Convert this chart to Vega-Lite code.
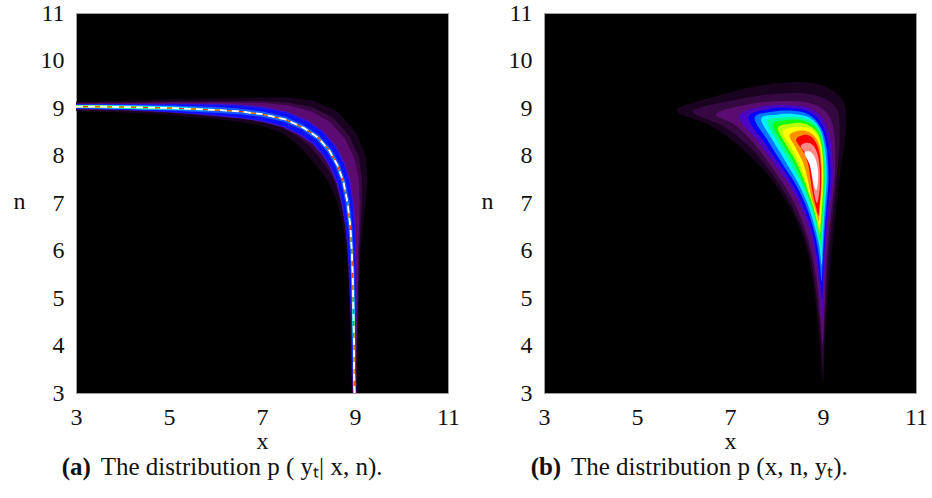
{
"$schema": "https://vega.github.io/schema/vega-lite/v6.json",
"spacing": 19,
"padding": {"left": 12, "top": 0, "right": 5, "bottom": 5},
"background": "white",
"config": {
  "view": {"fill": "#000000", "stroke": "#a0a0a0", "strokeWidth": 1},
  "text": {"font": "Liberation Serif"},
  "axis": {"grid": false, "ticks": false, "domain": false, "labelFont": "Liberation Serif", "labelFontSize": 24, "labelColor": "#111111", "titleFont": "Liberation Serif", "titleFontSize": 24, "titleFontWeight": "normal", "titleColor": "#111111", "labelFlush": false},
  "axisX": {"labelPadding": 31, "labelBaseline": "alphabetic", "titleY": 55, "titleBaseline": "alphabetic"},
  "axisY": {"labelPadding": 12, "titleAngle": 0, "titleX": -57, "titleY": 195, "titleAlign": "center", "titleBaseline": "alphabetic"}
},
"datasets": {
"band": [
{"i":0,"x":3.0,"n":9.03,"hx":3.0,"hn":9.035,"h1":0.2,"h2":0.15,"h3":0.12,"v":0.105,"b":0.09,"a":0.075,"c":0.065,"g":0.05,"wy":0.04,"r":0.028},
{"i":1,"x":3.5,"n":9.03,"hx":3.5,"hn":9.035,"h1":0.22,"h2":0.165,"h3":0.135,"v":0.115,"b":0.1,"a":0.08,"c":0.07,"g":0.055,"wy":0.035,"r":0.015},
{"i":2,"x":4.0,"n":9.02,"hx":4.0,"hn":9.03,"h1":0.25,"h2":0.18,"h3":0.15,"v":0.13,"b":0.11,"a":0.085,"c":0.075,"g":0.05,"wy":0.02,"r":0},
{"i":3,"x":4.5,"n":9.01,"hx":4.5,"hn":9.025,"h1":0.29,"h2":0.21,"h3":0.175,"v":0.15,"b":0.13,"a":0.095,"c":0.08,"g":0.04,"wy":0,"r":0},
{"i":4,"x":5.0,"n":9.0,"hx":5.0,"hn":9.02,"h1":0.33,"h2":0.24,"h3":0.2,"v":0.18,"b":0.155,"a":0.105,"c":0.075,"g":0.02,"wy":0,"r":0},
{"i":5,"x":5.5,"n":8.98,"hx":5.5,"hn":9.0,"h1":0.38,"h2":0.28,"h3":0.235,"v":0.22,"b":0.19,"a":0.115,"c":0.06,"g":0,"wy":0,"r":0},
{"i":6,"x":6.0,"n":8.96,"hx":6.0,"hn":8.985,"h1":0.43,"h2":0.32,"h3":0.27,"v":0.26,"b":0.22,"a":0.12,"c":0.04,"g":0,"wy":0,"r":0},
{"i":7,"x":6.5,"n":8.93,"hx":6.5,"hn":8.96,"h1":0.5,"h2":0.37,"h3":0.31,"v":0.29,"b":0.25,"a":0.12,"c":0.015,"g":0,"wy":0,"r":0},
{"i":8,"x":7.0,"n":8.87,"hx":7.02,"hn":8.93,"h1":0.6,"h2":0.44,"h3":0.36,"v":0.32,"b":0.27,"a":0.115,"c":0,"g":0,"wy":0,"r":0},
{"i":9,"x":7.5,"n":8.76,"hx":7.54,"hn":8.84,"h1":0.78,"h2":0.56,"h3":0.44,"v":0.34,"b":0.29,"a":0.11,"c":0,"g":0,"wy":0,"r":0},
{"i":10,"x":7.9,"n":8.58,"hx":7.96,"hn":8.69,"h1":0.98,"h2":0.7,"h3":0.52,"v":0.36,"b":0.3,"a":0.1,"c":0,"g":0,"wy":0,"r":0},
{"i":11,"x":8.2,"n":8.38,"hx":8.28,"hn":8.49,"h1":1.1,"h2":0.78,"h3":0.56,"v":0.36,"b":0.3,"a":0.1,"c":0,"g":0,"wy":0,"r":0},
{"i":12,"x":8.45,"n":8.1,"hx":8.55,"hn":8.19,"h1":1.1,"h2":0.78,"h3":0.56,"v":0.35,"b":0.29,"a":0.1,"c":0,"g":0,"wy":0,"r":0},
{"i":13,"x":8.62,"n":7.8,"hx":8.74,"hn":7.86,"h1":1.0,"h2":0.71,"h3":0.52,"v":0.33,"b":0.27,"a":0.095,"c":0,"g":0,"wy":0,"r":0},
{"i":14,"x":8.75,"n":7.45,"hx":8.86,"hn":7.49,"h1":0.82,"h2":0.58,"h3":0.44,"v":0.3,"b":0.24,"a":0.09,"c":0,"g":0,"wy":0,"r":0},
{"i":15,"x":8.84,"n":7.0,"hx":8.93,"hn":7.02,"h1":0.6,"h2":0.44,"h3":0.34,"v":0.26,"b":0.21,"a":0.09,"c":0,"g":0,"wy":0,"r":0},
{"i":16,"x":8.9,"n":6.5,"hx":8.96,"hn":6.51,"h1":0.42,"h2":0.32,"h3":0.26,"v":0.21,"b":0.175,"a":0.085,"c":0,"g":0,"wy":0,"r":0},
{"i":17,"x":8.93,"n":6.0,"hx":8.97,"hn":6.0,"h1":0.3,"h2":0.24,"h3":0.2,"v":0.18,"b":0.155,"a":0.08,"c":0.02,"g":0,"wy":0,"r":0},
{"i":18,"x":8.95,"n":5.5,"hx":8.98,"hn":5.5,"h1":0.25,"h2":0.2,"h3":0.175,"v":0.16,"b":0.135,"a":0.075,"c":0.045,"g":0,"wy":0,"r":0},
{"i":19,"x":8.96,"n":5.0,"hx":8.98,"hn":5.0,"h1":0.21,"h2":0.17,"h3":0.15,"v":0.135,"b":0.115,"a":0.07,"c":0.055,"g":0.015,"wy":0,"r":0},
{"i":20,"x":8.97,"n":4.5,"hx":8.98,"hn":4.5,"h1":0.18,"h2":0.145,"h3":0.125,"v":0.11,"b":0.095,"a":0.065,"c":0.055,"g":0.035,"wy":0,"r":0},
{"i":21,"x":8.98,"n":4.0,"hx":8.98,"hn":4.0,"h1":0.15,"h2":0.125,"h3":0.105,"v":0.09,"b":0.08,"a":0.06,"c":0.05,"g":0.04,"wy":0.02,"r":0},
{"i":22,"x":8.98,"n":3.5,"hx":8.98,"hn":3.5,"h1":0.13,"h2":0.11,"h3":0.09,"v":0.075,"b":0.065,"a":0.055,"c":0.045,"g":0.035,"wy":0.028,"r":0.012},
{"i":23,"x":8.99,"n":3.0,"hx":8.99,"hn":3.0,"h1":0.11,"h2":0.095,"h3":0.08,"v":0.065,"b":0.055,"a":0.05,"c":0.04,"g":0.032,"wy":0.026,"r":0.02}
],
"crescent": [
{"l":"R0","i":0,"x":5.85,"n":8.95},{"l":"R0","i":1,"x":6.7,"n":9.25},{"l":"R0","i":2,"x":7.8,"n":9.5},{"l":"R0","i":3,"x":8.8,"n":9.52},{"l":"R0","i":4,"x":9.4,"n":9.2},{"l":"R0","i":5,"x":9.5,"n":8.6},{"l":"R0","i":6,"x":9.38,"n":7.7},{"l":"R0","i":7,"x":9.28,"n":6.8},{"l":"R0","i":8,"x":9.18,"n":5.9},{"l":"R0","i":9,"x":9.1,"n":4.9},{"l":"R0","i":10,"x":9.04,"n":4.0},{"l":"R0","i":11,"x":9.0,"n":3.2},{"l":"R0","i":12,"x":8.93,"n":4.0},{"l":"R0","i":13,"x":8.83,"n":5.0},{"l":"R0","i":14,"x":8.67,"n":5.95},{"l":"R0","i":15,"x":8.42,"n":6.65},{"l":"R0","i":16,"x":8.1,"n":7.2},{"l":"R0","i":17,"x":7.72,"n":7.7},{"l":"R0","i":18,"x":7.25,"n":8.15},{"l":"R0","i":19,"x":6.6,"n":8.62},
{"l":"R1","i":0,"x":6.2,"n":8.93},{"l":"R1","i":1,"x":7.0,"n":9.15},{"l":"R1","i":2,"x":8.0,"n":9.3},{"l":"R1","i":3,"x":8.8,"n":9.28},{"l":"R1","i":4,"x":9.28,"n":9.0},{"l":"R1","i":5,"x":9.36,"n":8.4},{"l":"R1","i":6,"x":9.3,"n":7.6},{"l":"R1","i":7,"x":9.22,"n":6.8},{"l":"R1","i":8,"x":9.13,"n":6.0},{"l":"R1","i":9,"x":9.07,"n":5.0},{"l":"R1","i":10,"x":9.02,"n":4.2},{"l":"R1","i":11,"x":9.0,"n":3.5},{"l":"R1","i":12,"x":8.95,"n":4.2},{"l":"R1","i":13,"x":8.85,"n":5.1},{"l":"R1","i":14,"x":8.7,"n":6.0},{"l":"R1","i":15,"x":8.45,"n":6.7},{"l":"R1","i":16,"x":8.15,"n":7.25},{"l":"R1","i":17,"x":7.8,"n":7.75},{"l":"R1","i":18,"x":7.4,"n":8.2},{"l":"R1","i":19,"x":6.85,"n":8.62},
{"l":"R2","i":0,"x":6.7,"n":8.88},{"l":"R2","i":1,"x":7.4,"n":9.08},{"l":"R2","i":2,"x":8.2,"n":9.15},{"l":"R2","i":3,"x":8.8,"n":9.08},{"l":"R2","i":4,"x":9.15,"n":8.8},{"l":"R2","i":5,"x":9.26,"n":8.25},{"l":"R2","i":6,"x":9.25,"n":7.5},{"l":"R2","i":7,"x":9.18,"n":6.85},{"l":"R2","i":8,"x":9.1,"n":6.1},{"l":"R2","i":9,"x":9.05,"n":5.2},{"l":"R2","i":10,"x":9.02,"n":4.4},{"l":"R2","i":11,"x":8.99,"n":4.0},{"l":"R2","i":12,"x":8.95,"n":4.5},{"l":"R2","i":13,"x":8.87,"n":5.3},{"l":"R2","i":14,"x":8.72,"n":6.1},{"l":"R2","i":15,"x":8.5,"n":6.75},{"l":"R2","i":16,"x":8.21,"n":7.3},{"l":"R2","i":17,"x":7.88,"n":7.78},{"l":"R2","i":18,"x":7.52,"n":8.25},{"l":"R2","i":19,"x":7.1,"n":8.65},
{"l":"R3","i":0,"x":7.2,"n":8.82},{"l":"R3","i":1,"x":7.7,"n":9.03},{"l":"R3","i":2,"x":8.3,"n":9.06},{"l":"R3","i":3,"x":8.75,"n":8.98},{"l":"R3","i":4,"x":9.04,"n":8.7},{"l":"R3","i":5,"x":9.18,"n":8.22},{"l":"R3","i":6,"x":9.21,"n":7.5},{"l":"R3","i":7,"x":9.14,"n":6.9},{"l":"R3","i":8,"x":9.07,"n":6.2},{"l":"R3","i":9,"x":9.03,"n":5.4},{"l":"R3","i":10,"x":8.99,"n":4.6},{"l":"R3","i":11,"x":8.92,"n":5.3},{"l":"R3","i":12,"x":8.77,"n":6.2},{"l":"R3","i":13,"x":8.55,"n":6.85},{"l":"R3","i":14,"x":8.27,"n":7.38},{"l":"R3","i":15,"x":7.95,"n":7.83},{"l":"R3","i":16,"x":7.6,"n":8.3},
{"l":"R4","i":0,"x":7.4,"n":8.8},{"l":"R4","i":1,"x":7.8,"n":8.97},{"l":"R4","i":2,"x":8.3,"n":9.0},{"l":"R4","i":3,"x":8.7,"n":8.92},{"l":"R4","i":4,"x":8.98,"n":8.65},{"l":"R4","i":5,"x":9.12,"n":8.2},{"l":"R4","i":6,"x":9.16,"n":7.5},{"l":"R4","i":7,"x":9.1,"n":6.9},{"l":"R4","i":8,"x":9.04,"n":6.2},{"l":"R4","i":9,"x":9.0,"n":5.5},{"l":"R4","i":10,"x":8.98,"n":5.0},{"l":"R4","i":11,"x":8.91,"n":5.6},{"l":"R4","i":12,"x":8.79,"n":6.3},{"l":"R4","i":13,"x":8.59,"n":6.9},{"l":"R4","i":14,"x":8.32,"n":7.43},{"l":"R4","i":15,"x":8.02,"n":7.88},{"l":"R4","i":16,"x":7.72,"n":8.3},
{"l":"R5","i":0,"x":7.53,"n":8.79},{"l":"R5","i":1,"x":7.9,"n":8.92},{"l":"R5","i":2,"x":8.35,"n":8.94},{"l":"R5","i":3,"x":8.72,"n":8.85},{"l":"R5","i":4,"x":8.96,"n":8.58},{"l":"R5","i":5,"x":9.08,"n":8.15},{"l":"R5","i":6,"x":9.12,"n":7.5},{"l":"R5","i":7,"x":9.07,"n":6.9},{"l":"R5","i":8,"x":9.02,"n":6.25},{"l":"R5","i":9,"x":8.99,"n":5.7},{"l":"R5","i":10,"x":8.97,"n":5.35},{"l":"R5","i":11,"x":8.91,"n":5.9},{"l":"R5","i":12,"x":8.81,"n":6.4},{"l":"R5","i":13,"x":8.63,"n":6.95},{"l":"R5","i":14,"x":8.39,"n":7.43},{"l":"R5","i":15,"x":8.11,"n":7.85},{"l":"R5","i":16,"x":7.82,"n":8.3},
{"l":"R6","i":0,"x":7.67,"n":8.77},{"l":"R6","i":1,"x":8.0,"n":8.86},{"l":"R6","i":2,"x":8.4,"n":8.87},{"l":"R6","i":3,"x":8.74,"n":8.78},{"l":"R6","i":4,"x":8.95,"n":8.52},{"l":"R6","i":5,"x":9.05,"n":8.1},{"l":"R6","i":6,"x":9.08,"n":7.5},{"l":"R6","i":7,"x":9.04,"n":6.9},{"l":"R6","i":8,"x":9.0,"n":6.3},{"l":"R6","i":9,"x":8.97,"n":5.7},{"l":"R6","i":10,"x":8.92,"n":6.1},{"l":"R6","i":11,"x":8.82,"n":6.5},{"l":"R6","i":12,"x":8.67,"n":6.98},{"l":"R6","i":13,"x":8.46,"n":7.43},{"l":"R6","i":14,"x":8.21,"n":7.85},{"l":"R6","i":15,"x":7.93,"n":8.3},
{"l":"R7","i":0,"x":7.8,"n":8.71},{"l":"R7","i":1,"x":8.1,"n":8.8},{"l":"R7","i":2,"x":8.45,"n":8.81},{"l":"R7","i":3,"x":8.76,"n":8.72},{"l":"R7","i":4,"x":8.95,"n":8.48},{"l":"R7","i":5,"x":9.03,"n":8.05},{"l":"R7","i":6,"x":9.05,"n":7.5},{"l":"R7","i":7,"x":9.02,"n":6.9},{"l":"R7","i":8,"x":8.98,"n":6.4},{"l":"R7","i":9,"x":8.96,"n":6.0},{"l":"R7","i":10,"x":8.9,"n":6.3},{"l":"R7","i":11,"x":8.81,"n":6.7},{"l":"R7","i":12,"x":8.69,"n":7.05},{"l":"R7","i":13,"x":8.52,"n":7.43},{"l":"R7","i":14,"x":8.29,"n":7.85},{"l":"R7","i":15,"x":8.03,"n":8.28},
{"l":"R8","i":0,"x":7.92,"n":8.65},{"l":"R8","i":1,"x":8.2,"n":8.74},{"l":"R8","i":2,"x":8.5,"n":8.75},{"l":"R8","i":3,"x":8.78,"n":8.65},{"l":"R8","i":4,"x":8.95,"n":8.42},{"l":"R8","i":5,"x":9.01,"n":8.0},{"l":"R8","i":6,"x":9.03,"n":7.5},{"l":"R8","i":7,"x":9.0,"n":6.9},{"l":"R8","i":8,"x":8.97,"n":6.5},{"l":"R8","i":9,"x":8.95,"n":6.2},{"l":"R8","i":10,"x":8.88,"n":6.5},{"l":"R8","i":11,"x":8.79,"n":6.85},{"l":"R8","i":12,"x":8.68,"n":7.15},{"l":"R8","i":13,"x":8.57,"n":7.43},{"l":"R8","i":14,"x":8.37,"n":7.85},{"l":"R8","i":15,"x":8.13,"n":8.25},
{"l":"R9","i":0,"x":8.03,"n":8.58},{"l":"R9","i":1,"x":8.3,"n":8.67},{"l":"R9","i":2,"x":8.57,"n":8.68},{"l":"R9","i":3,"x":8.8,"n":8.57},{"l":"R9","i":4,"x":8.94,"n":8.35},{"l":"R9","i":5,"x":9.0,"n":7.95},{"l":"R9","i":6,"x":9.01,"n":7.45},{"l":"R9","i":7,"x":8.98,"n":6.9},{"l":"R9","i":8,"x":8.95,"n":6.55},{"l":"R9","i":9,"x":8.93,"n":6.35},{"l":"R9","i":10,"x":8.87,"n":6.6},{"l":"R9","i":11,"x":8.79,"n":6.92},{"l":"R9","i":12,"x":8.69,"n":7.2},{"l":"R9","i":13,"x":8.61,"n":7.43},{"l":"R9","i":14,"x":8.43,"n":7.85},{"l":"R9","i":15,"x":8.21,"n":8.22},
{"l":"R10","i":0,"x":8.13,"n":8.5},{"l":"R10","i":1,"x":8.38,"n":8.6},{"l":"R10","i":2,"x":8.62,"n":8.6},{"l":"R10","i":3,"x":8.82,"n":8.5},{"l":"R10","i":4,"x":8.94,"n":8.28},{"l":"R10","i":5,"x":8.99,"n":7.9},{"l":"R10","i":6,"x":8.99,"n":7.4},{"l":"R10","i":7,"x":8.96,"n":6.9},{"l":"R10","i":8,"x":8.93,"n":6.5},{"l":"R10","i":9,"x":8.87,"n":6.7},{"l":"R10","i":10,"x":8.79,"n":6.98},{"l":"R10","i":11,"x":8.7,"n":7.22},{"l":"R10","i":12,"x":8.64,"n":7.43},{"l":"R10","i":13,"x":8.49,"n":7.85},{"l":"R10","i":14,"x":8.3,"n":8.2},
{"l":"R11","i":0,"x":8.28,"n":8.42},{"l":"R11","i":1,"x":8.48,"n":8.52},{"l":"R11","i":2,"x":8.68,"n":8.5},{"l":"R11","i":3,"x":8.84,"n":8.38},{"l":"R11","i":4,"x":8.94,"n":8.15},{"l":"R11","i":5,"x":8.97,"n":7.8},{"l":"R11","i":6,"x":8.97,"n":7.35},{"l":"R11","i":7,"x":8.94,"n":6.95},{"l":"R11","i":8,"x":8.91,"n":6.62},{"l":"R11","i":9,"x":8.85,"n":6.82},{"l":"R11","i":10,"x":8.77,"n":7.05},{"l":"R11","i":11,"x":8.71,"n":7.3},{"l":"R11","i":12,"x":8.67,"n":7.5},{"l":"R11","i":13,"x":8.57,"n":7.85},{"l":"R11","i":14,"x":8.42,"n":8.15},
{"l":"R12","i":0,"x":8.42,"n":8.33},{"l":"R12","i":1,"x":8.58,"n":8.43},{"l":"R12","i":2,"x":8.74,"n":8.4},{"l":"R12","i":3,"x":8.86,"n":8.25},{"l":"R12","i":4,"x":8.93,"n":8.0},{"l":"R12","i":5,"x":8.96,"n":7.6},{"l":"R12","i":6,"x":8.95,"n":7.2},{"l":"R12","i":7,"x":8.92,"n":6.9},{"l":"R12","i":8,"x":8.9,"n":6.74},{"l":"R12","i":9,"x":8.84,"n":6.95},{"l":"R12","i":10,"x":8.78,"n":7.2},{"l":"R12","i":11,"x":8.74,"n":7.45},{"l":"R12","i":12,"x":8.67,"n":7.85},{"l":"R12","i":13,"x":8.55,"n":8.12},
{"l":"R13","i":0,"x":8.52,"n":8.2},{"l":"R13","i":1,"x":8.66,"n":8.27},{"l":"R13","i":2,"x":8.8,"n":8.2},{"l":"R13","i":3,"x":8.89,"n":8.0},{"l":"R13","i":4,"x":8.93,"n":7.7},{"l":"R13","i":5,"x":8.93,"n":7.35},{"l":"R13","i":6,"x":8.9,"n":7.1},{"l":"R13","i":7,"x":8.87,"n":7.0},{"l":"R13","i":8,"x":8.82,"n":7.15},{"l":"R13","i":9,"x":8.78,"n":7.4},{"l":"R13","i":10,"x":8.73,"n":7.75},{"l":"R13","i":11,"x":8.64,"n":8.02},
{"l":"R14","i":0,"x":8.6,"n":8.05},{"l":"R14","i":1,"x":8.72,"n":8.08},{"l":"R14","i":2,"x":8.83,"n":7.95},{"l":"R14","i":3,"x":8.89,"n":7.7},{"l":"R14","i":4,"x":8.89,"n":7.45},{"l":"R14","i":5,"x":8.86,"n":7.28},{"l":"R14","i":6,"x":8.81,"n":7.35},{"l":"R14","i":7,"x":8.77,"n":7.55},{"l":"R14","i":8,"x":8.71,"n":7.82}
]
},
"hconcat": [
{
  "width": 372, "height": 380,
  "data": {"name": "band"},
  "layer": [
    {"mark": {"type": "trail", "color": "#1a0320", "clip": true}, "encoding": {
      "x": {"field": "hx", "type": "quantitative", "title": "x", "scale": {"domain": [3, 11], "nice": false, "zero": false}, "axis": {"values": [3, 5, 7, 9, 11]}},
      "y": {"field": "hn", "type": "quantitative", "title": "n", "scale": {"domain": [3, 11], "nice": false, "zero": false}, "axis": {"values": [3, 4, 5, 6, 7, 8, 9, 10, 11]}},
      "order": {"field": "i", "type": "quantitative"},
      "size": {"field": "h1", "type": "quantitative", "scale": {"domain": [0, 1], "range": [0, 47]}, "legend": null}}},
    {"mark": {"type": "trail", "color": "#380842", "clip": true}, "encoding": {
      "x": {"field": "hx", "type": "quantitative", "title": "x", "scale": {"domain": [3, 11], "nice": false, "zero": false}, "axis": {"values": [3, 5, 7, 9, 11]}},
      "y": {"field": "hn", "type": "quantitative", "title": "n", "scale": {"domain": [3, 11], "nice": false, "zero": false}, "axis": {"values": [3, 4, 5, 6, 7, 8, 9, 10, 11]}},
      "order": {"field": "i", "type": "quantitative"},
      "size": {"field": "h2", "type": "quantitative", "scale": {"domain": [0, 1], "range": [0, 47]}, "legend": null}}},
    {"mark": {"type": "trail", "color": "#5c0c70", "clip": true}, "encoding": {
      "x": {"field": "hx", "type": "quantitative", "title": "x", "scale": {"domain": [3, 11], "nice": false, "zero": false}, "axis": {"values": [3, 5, 7, 9, 11]}},
      "y": {"field": "hn", "type": "quantitative", "title": "n", "scale": {"domain": [3, 11], "nice": false, "zero": false}, "axis": {"values": [3, 4, 5, 6, 7, 8, 9, 10, 11]}},
      "order": {"field": "i", "type": "quantitative"},
      "size": {"field": "h3", "type": "quantitative", "scale": {"domain": [0, 1], "range": [0, 47]}, "legend": null}}},
    {"mark": {"type": "trail", "color": "#4412cc", "clip": true}, "encoding": {
      "x": {"field": "x", "type": "quantitative", "title": "x", "scale": {"domain": [3, 11], "nice": false, "zero": false}, "axis": {"values": [3, 5, 7, 9, 11]}},
      "y": {"field": "n", "type": "quantitative", "title": "n", "scale": {"domain": [3, 11], "nice": false, "zero": false}, "axis": {"values": [3, 4, 5, 6, 7, 8, 9, 10, 11]}},
      "order": {"field": "i", "type": "quantitative"},
      "size": {"field": "v", "type": "quantitative", "scale": {"domain": [0, 1], "range": [0, 47]}, "legend": null}}},
    {"mark": {"type": "trail", "color": "#0a10ff", "clip": true}, "encoding": {
      "x": {"field": "x", "type": "quantitative", "title": "x", "scale": {"domain": [3, 11], "nice": false, "zero": false}, "axis": {"values": [3, 5, 7, 9, 11]}},
      "y": {"field": "n", "type": "quantitative", "title": "n", "scale": {"domain": [3, 11], "nice": false, "zero": false}, "axis": {"values": [3, 4, 5, 6, 7, 8, 9, 10, 11]}},
      "order": {"field": "i", "type": "quantitative"},
      "size": {"field": "b", "type": "quantitative", "scale": {"domain": [0, 1], "range": [0, 47]}, "legend": null}}},
    {"mark": {"type": "trail", "color": "#1a5cff", "clip": true}, "encoding": {
      "x": {"field": "x", "type": "quantitative", "title": "x", "scale": {"domain": [3, 11], "nice": false, "zero": false}, "axis": {"values": [3, 5, 7, 9, 11]}},
      "y": {"field": "n", "type": "quantitative", "title": "n", "scale": {"domain": [3, 11], "nice": false, "zero": false}, "axis": {"values": [3, 4, 5, 6, 7, 8, 9, 10, 11]}},
      "order": {"field": "i", "type": "quantitative"},
      "size": {"field": "a", "type": "quantitative", "scale": {"domain": [0, 1], "range": [0, 47]}, "legend": null}}},
    {"mark": {"type": "trail", "color": "#00e0ff", "clip": true}, "encoding": {
      "x": {"field": "x", "type": "quantitative", "title": "x", "scale": {"domain": [3, 11], "nice": false, "zero": false}, "axis": {"values": [3, 5, 7, 9, 11]}},
      "y": {"field": "n", "type": "quantitative", "title": "n", "scale": {"domain": [3, 11], "nice": false, "zero": false}, "axis": {"values": [3, 4, 5, 6, 7, 8, 9, 10, 11]}},
      "order": {"field": "i", "type": "quantitative"},
      "size": {"field": "c", "type": "quantitative", "scale": {"domain": [0, 1], "range": [0, 47]}, "legend": null}}},
    {"mark": {"type": "trail", "color": "#30ff30", "clip": true}, "encoding": {
      "x": {"field": "x", "type": "quantitative", "title": "x", "scale": {"domain": [3, 11], "nice": false, "zero": false}, "axis": {"values": [3, 5, 7, 9, 11]}},
      "y": {"field": "n", "type": "quantitative", "title": "n", "scale": {"domain": [3, 11], "nice": false, "zero": false}, "axis": {"values": [3, 4, 5, 6, 7, 8, 9, 10, 11]}},
      "order": {"field": "i", "type": "quantitative"},
      "size": {"field": "g", "type": "quantitative", "scale": {"domain": [0, 1], "range": [0, 47]}, "legend": null}}},
    {"mark": {"type": "trail", "color": "#ffee00", "clip": true}, "encoding": {
      "x": {"field": "x", "type": "quantitative", "title": "x", "scale": {"domain": [3, 11], "nice": false, "zero": false}, "axis": {"values": [3, 5, 7, 9, 11]}},
      "y": {"field": "n", "type": "quantitative", "title": "n", "scale": {"domain": [3, 11], "nice": false, "zero": false}, "axis": {"values": [3, 4, 5, 6, 7, 8, 9, 10, 11]}},
      "order": {"field": "i", "type": "quantitative"},
      "size": {"field": "wy", "type": "quantitative", "scale": {"domain": [0, 1], "range": [0, 47]}, "legend": null}}},
    {"mark": {"type": "trail", "color": "#ff2a00", "clip": true}, "encoding": {
      "x": {"field": "x", "type": "quantitative", "title": "x", "scale": {"domain": [3, 11], "nice": false, "zero": false}, "axis": {"values": [3, 5, 7, 9, 11]}},
      "y": {"field": "n", "type": "quantitative", "title": "n", "scale": {"domain": [3, 11], "nice": false, "zero": false}, "axis": {"values": [3, 4, 5, 6, 7, 8, 9, 10, 11]}},
      "order": {"field": "i", "type": "quantitative"},
      "size": {"field": "r", "type": "quantitative", "scale": {"domain": [0, 1], "range": [0, 47]}, "legend": null}}},
    {"mark": {"type": "line", "color": "#ffffff", "strokeWidth": 1.8, "strokeDash": [7, 5], "clip": true}, "encoding": {
      "x": {"field": "x", "type": "quantitative", "title": "x", "scale": {"domain": [3, 11], "nice": false, "zero": false}, "axis": {"values": [3, 5, 7, 9, 11]}},
      "y": {"field": "n", "type": "quantitative", "title": "n", "scale": {"domain": [3, 11], "nice": false, "zero": false}, "axis": {"values": [3, 4, 5, 6, 7, 8, 9, 10, 11]}},
      "order": {"field": "i", "type": "quantitative"}}},
    {"data": {"values": [{"t": "(a)"}]},
     "mark": {"type": "text", "font": "Liberation Serif", "fontSize": 25, "fontWeight": "bold", "align": "right", "baseline": "alphabetic", "color": "#111111"},
     "encoding": {"text": {"field": "t", "type": "nominal"},
       "x": {"datum": 3.32, "type": "quantitative", "title": "x", "scale": {"domain": [3, 11], "nice": false, "zero": false}, "axis": {"values": [3, 5, 7, 9, 11]}},
       "y": {"datum": 1.27, "type": "quantitative", "title": "n", "scale": {"domain": [3, 11], "nice": false, "zero": false}, "axis": {"values": [3, 4, 5, 6, 7, 8, 9, 10, 11]}}}},
    {"data": {"values": [{"t": "The distribution p ( yₜ| x, n)."}]},
     "mark": {"type": "text", "font": "Liberation Serif", "fontSize": 25, "align": "left", "baseline": "alphabetic", "color": "#111111"},
     "encoding": {"text": {"field": "t", "type": "nominal"},
       "x": {"datum": 3.53, "type": "quantitative", "title": "x", "scale": {"domain": [3, 11], "nice": false, "zero": false}, "axis": {"values": [3, 5, 7, 9, 11]}},
       "y": {"datum": 1.27, "type": "quantitative", "title": "n", "scale": {"domain": [3, 11], "nice": false, "zero": false}, "axis": {"values": [3, 4, 5, 6, 7, 8, 9, 10, 11]}}}}
  ]
},
{
  "width": 372, "height": 380,
  "data": {"name": "crescent"},
  "layer": [
    {"mark": {"type": "line", "filled": true, "interpolate": "cardinal-closed", "clip": true},
     "encoding": {
       "x": {"field": "x", "type": "quantitative", "title": "x", "scale": {"domain": [3, 11], "nice": false, "zero": false}, "axis": {"values": [3, 5, 7, 9, 11]}},
       "y": {"field": "n", "type": "quantitative", "title": "n", "scale": {"domain": [3, 11], "nice": false, "zero": false}, "axis": {"values": [3, 4, 5, 6, 7, 8, 9, 10, 11]}},
       "order": {"field": "i", "type": "quantitative"},
       "color": {"field": "l", "type": "nominal", "legend": null,
       "scale": {"domain": ["R0","R1","R2","R3","R4","R5","R6","R7","R8","R9","R10","R11","R12","R13","R14"],
                 "range": ["#1a0320","#360842","#5a0c70","#4a06c4","#0000ff","#0078ff","#00f0ff","#00ff90","#10ff10","#b8ff00","#ffff00","#ff9000","#ff0000","#ff8a8a","#ffffff"]}}}},
    {"data": {"values": [{"t": "(b)"}]},
     "mark": {"type": "text", "font": "Liberation Serif", "fontSize": 25, "fontWeight": "bold", "align": "right", "baseline": "alphabetic", "color": "#111111"},
     "encoding": {"text": {"field": "t", "type": "nominal"},
       "x": {"datum": 3.37, "type": "quantitative", "title": "x", "scale": {"domain": [3, 11], "nice": false, "zero": false}, "axis": {"values": [3, 5, 7, 9, 11]}},
       "y": {"datum": 1.27, "type": "quantitative", "title": "n", "scale": {"domain": [3, 11], "nice": false, "zero": false}, "axis": {"values": [3, 4, 5, 6, 7, 8, 9, 10, 11]}}}},
    {"data": {"values": [{"t": "The distribution p (x, n, yₜ)."}]},
     "mark": {"type": "text", "font": "Liberation Serif", "fontSize": 25, "align": "left", "baseline": "alphabetic", "color": "#111111"},
     "encoding": {"text": {"field": "t", "type": "nominal"},
       "x": {"datum": 3.58, "type": "quantitative", "title": "x", "scale": {"domain": [3, 11], "nice": false, "zero": false}, "axis": {"values": [3, 5, 7, 9, 11]}},
       "y": {"datum": 1.27, "type": "quantitative", "title": "n", "scale": {"domain": [3, 11], "nice": false, "zero": false}, "axis": {"values": [3, 4, 5, 6, 7, 8, 9, 10, 11]}}}}
  ]
}
]
}
